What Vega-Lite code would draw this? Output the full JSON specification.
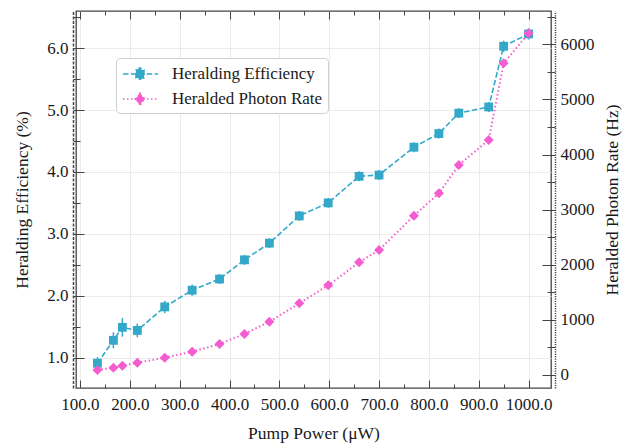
{
  "$schema": "https://vega.github.io/schema/vega-lite/v6.json",
  "width": 475,
  "height": 377,
  "autosize": {"type": "none"},
  "padding": {"left": 76, "top": 11, "right": 77, "bottom": 56},
  "background": "white",
  "data": {
    "values": [
      {"p": 135, "he": 0.91, "ey": 0.10, "ex": 4, "rate": 91},
      {"p": 167, "he": 1.28, "ey": 0.13, "ex": 4, "rate": 132},
      {"p": 185, "he": 1.49, "ey": 0.15, "ex": 4, "rate": 169},
      {"p": 215, "he": 1.44, "ey": 0.11, "ex": 4, "rate": 223},
      {"p": 270, "he": 1.82, "ey": 0.10, "ex": 4, "rate": 314},
      {"p": 325, "he": 2.09, "ey": 0.09, "ex": 4, "rate": 423},
      {"p": 380, "he": 2.27, "ey": 0.08, "ex": 4, "rate": 562},
      {"p": 430, "he": 2.58, "ey": 0.08, "ex": 4, "rate": 744},
      {"p": 480, "he": 2.85, "ey": 0.08, "ex": 4, "rate": 967},
      {"p": 540, "he": 3.29, "ey": 0.08, "ex": 4, "rate": 1300},
      {"p": 598, "he": 3.50, "ey": 0.08, "ex": 4, "rate": 1627},
      {"p": 660, "he": 3.93, "ey": 0.08, "ex": 4, "rate": 2044},
      {"p": 700, "he": 3.95, "ey": 0.08, "ex": 4, "rate": 2268},
      {"p": 770, "he": 4.40, "ey": 0.08, "ex": 4, "rate": 2890},
      {"p": 820, "he": 4.62, "ey": 0.08, "ex": 4, "rate": 3296},
      {"p": 860, "he": 4.95, "ey": 0.08, "ex": 4, "rate": 3810},
      {"p": 920, "he": 5.05, "ey": 0.08, "ex": 4, "rate": 4263},
      {"p": 950, "he": 6.03, "ey": 0.09, "ex": 4, "rate": 5655},
      {"p": 1000, "he": 6.23, "ey": 0.09, "ex": 4, "rate": 6199}
    ]
  },
  "layer": [
    {
      "encoding": {
        "x": {
          "field": "p", "type": "quantitative",
          "scale": {"domain": [92, 1045], "nice": false, "zero": false},
          "axis": {
            "orient": "bottom",
            "title": "Pump Power (μW)",
            "values": [100, 150, 200, 250, 300, 350, 400, 450, 500, 550, 600, 650, 700, 750, 800, 850, 900, 950, 1000],
            "labelExpr": "datum.value % 100 === 0 ? format(datum.value, '.1f') : ''",
            "tickSize": {"condition": {"test": "datum.value % 100 === 0", "value": -8}, "value": -4},
            "domain": false,
            "grid": true,
            "gridOpacity": {"condition": {"test": "datum.value % 100 === 0", "value": 1}, "value": 0},
            "labelPadding": 16,
            "titlePadding": 8,
            "labelOverlap": false,
            "labelFlush": false
          }
        },
        "y": {
          "field": "he", "type": "quantitative",
          "scale": {"domain": [0.51, 6.6], "nice": false, "zero": false},
          "axis": {
            "orient": "left",
            "title": "Heralding Efficiency (%)",
            "values": [1, 1.5, 2, 2.5, 3, 3.5, 4, 4.5, 5, 5.5, 6, 6.5],
            "labelExpr": "datum.value % 1 === 0 ? format(datum.value, '.1f') : ''",
            "tickSize": {"condition": {"test": "datum.value % 1 === 0", "value": -11}, "value": -7},
            "offset": 3,
            "domain": true,
            "domainDash": [3, 1.5],
            "domainColor": "#444444",
            "domainWidth": 1.5,
            "grid": true,
            "gridOpacity": {"condition": {"test": "datum.value % 1 === 0", "value": 1}, "value": 0},
            "labelPadding": 16,
            "titlePadding": 15,
            "labelOverlap": false,
            "labelFlush": false
          }
        }
      },
      "layer": [
        {
          "mark": {"type": "line", "strokeDash": [5.5, 2.4], "strokeWidth": 1.6},
          "encoding": {
            "color": {
              "datum": "Heralding Efficiency", "type": "nominal",
              "scale": {"domain": ["Heralding Efficiency", "Heralded Photon Rate"], "range": ["#33a8c8", "#f45ccf"]},
              "legend": {
                "title": null,
                "orient": "none",
                "legendX": 40,
                "legendY": 47,
                "padding": 5,
                "rowPadding": 5,
                "labelOffset": 29,
                "fillColor": "white",
                "strokeColor": "#cfcfcf",
                "cornerRadius": 4,
                "labelFont": "Liberation Serif",
                "labelFontSize": 17,
                "labelColor": "#1a1a1a",
                "labelLimit": 400,
                "symbolSize": 400,
                "encode": {
                  "symbols": {
                    "update": {
                      "shape": {"signal": "datum.value === 'Heralding Efficiency' ? 'M-0.9,0H2.6M0.4,-0.4H1.2V0.4H0.4ZM0.72,-0.6H0.88V0.6H0.72Z' : 'M-0.9,0H2.6M0.3,0L0.8,-0.5L1.3,0L0.8,0.5ZM0.72,-0.6H0.88V0.6H0.72Z'"},
                      "strokeDash": {"signal": "datum.value === 'Heralding Efficiency' ? [5.5, 2.4] : [1.5, 2.5]"},
                      "fill": {"scale": "color", "field": "value"},
                      "stroke": {"scale": "color", "field": "value"},
                      "strokeWidth": {"value": 1.5},
                      "size": {"value": 400},
                      "opacity": {"value": 1}
                    }
                  }
                }
              }
            }
          }
        },
        {
          "mark": {"type": "errorbar", "color": "#33a8c8", "thickness": 1.5},
          "encoding": {"yError": {"field": "ey"}}
        },
        {
          "mark": {"type": "errorbar", "color": "#33a8c8", "thickness": 1.5},
          "encoding": {"xError": {"field": "ex"}}
        },
        {
          "mark": {"type": "point", "shape": "square", "filled": true, "size": 78, "color": "#33a8c8", "opacity": 1}
        }
      ]
    },
    {
      "encoding": {
        "x": {
          "field": "p", "type": "quantitative",
          "scale": {"domain": [92, 1045], "nice": false, "zero": false},
          "axis": {
            "orient": "top",
            "title": null,
            "labels": false,
            "values": [100, 150, 200, 250, 300, 350, 400, 450, 500, 550, 600, 650, 700, 750, 800, 850, 900, 950, 1000],
            "tickSize": {"condition": {"test": "datum.value % 100 === 0", "value": -8}, "value": -4},
            "domain": false,
            "grid": false
          }
        },
        "y": {
          "field": "rate", "type": "quantitative",
          "scale": {"domain": [-236, 6604], "nice": false, "zero": false},
          "axis": {
            "orient": "right",
            "title": "Heralded Photon Rate (Hz)",
            "values": [0, 500, 1000, 1500, 2000, 2500, 3000, 3500, 4000, 4500, 5000, 5500, 6000, 6500],
            "labelExpr": "datum.value % 1000 === 0 ? format(datum.value, 'd') : ''",
            "tickSize": {"condition": {"test": "datum.value % 1000 === 0", "value": -13}, "value": -8},
            "offset": 4,
            "domain": true,
            "domainDash": [1.2, 1.2],
            "domainColor": "#444444",
            "domainWidth": 1.5,
            "grid": false,
            "labelPadding": 18,
            "titlePadding": 9,
            "titleAngle": 270,
            "titleBaseline": "top",
            "labelOverlap": false,
            "labelFlush": false
          }
        }
      },
      "layer": [
        {
          "mark": {"type": "line", "strokeDash": [1.5, 2.5], "strokeWidth": 2},
          "encoding": {"color": {"datum": "Heralded Photon Rate", "type": "nominal"}}
        },
        {
          "mark": {"type": "point", "shape": "diamond", "filled": true, "size": 100, "color": "#f45ccf", "opacity": 1}
        }
      ]
    }
  ],
  "resolve": {"scale": {"y": "independent"}, "axis": {"x": "independent", "y": "independent"}},
  "config": {
    "font": "Liberation Serif",
    "view": {"stroke": "#444444", "strokeWidth": 1.3},
    "axis": {
      "labelFont": "Liberation Serif",
      "titleFont": "Liberation Serif",
      "labelFontSize": 17,
      "titleFontSize": 17.5,
      "titleFontWeight": "normal",
      "labelColor": "#1a1a1a",
      "titleColor": "#1a1a1a",
      "tickColor": "#444444",
      "tickWidth": 1,
      "gridColor": "#e6e6e6",
      "gridWidth": 0.8
    }
  }
}
